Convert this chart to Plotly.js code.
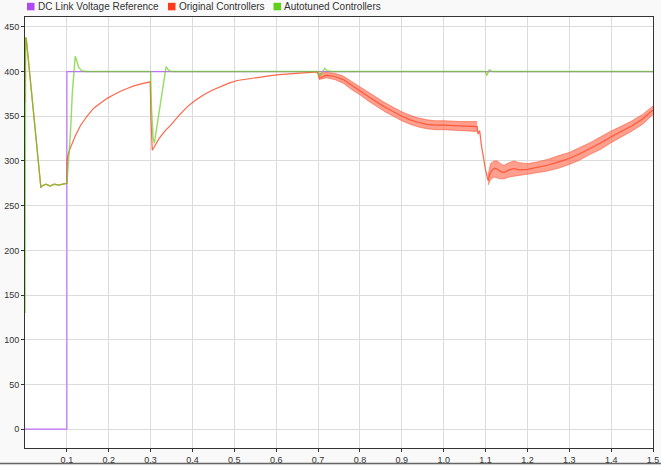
<!DOCTYPE html>
<html>
<head>
<meta charset="utf-8">
<script src="https://cdn.plot.ly/plotly-3.0.1.min.js"></script>
<style>html,body{margin:0;padding:0;background:#f9f9f9;}#chart{width:661px;height:466px;}</style>
</head>
<body>
<div id="chart"></div>
<script>
// ---- data ----
const seriesNames = ["DC Link Voltage Reference", "Original Controllers", "Autotuned Controllers"];

const refTime = [0, 0.1, 0.1, 1.5];
const refVolt = [0, 0, 400, 400];

const autoTime = [0, 0.0015, 0.003, 0.038, 0.040, 0.05, 0.06, 0.07, 0.08, 0.09, 0.1, 0.104, 0.109, 0.113, 0.117, 0.120, 0.123, 0.128, 0.135, 0.145, 0.30, 0.302, 0.306, 0.309, 0.337, 0.342, 0.35, 0.36, 0.70, 0.704, 0.710, 0.716, 0.722, 0.73, 1.10, 1.103, 1.106, 1.109, 1.114, 1.12, 1.5];
const autoVolt = [130, 438, 437, 270, 272, 274, 272, 274, 273, 274, 275, 300, 335, 376, 406, 417, 413, 405, 401, 400, 400, 360, 325, 320, 405.5, 402, 400, 400, 400, 395, 399, 403.5, 401, 400, 400, 395.5, 399, 402, 400.5, 400, 400];

const origTime = [0, 0.0015, 0.003, 0.038, 0.040, 0.05, 0.06, 0.07, 0.08, 0.09, 0.1, 0.1005, 0.102, 0.107, 0.113, 0.12, 0.133, 0.148, 0.164, 0.18, 0.196, 0.212, 0.228, 0.244, 0.26, 0.28, 0.299, 0.301, 0.304, 0.308, 0.32, 0.335, 0.348, 0.368, 0.388, 0.407, 0.427, 0.447, 0.467, 0.487, 0.507, 0.527, 0.547, 0.567, 0.587, 0.607, 0.626, 0.65, 0.674, 0.698, 0.703, 0.72, 0.74, 0.76, 0.78, 0.80, 0.82, 0.84, 0.86, 0.88, 0.90, 0.92, 0.94, 0.96, 0.98, 1.00, 1.04, 1.08, 1.082, 1.086, 1.090, 1.094, 1.100, 1.106, 1.110, 1.116, 1.122, 1.128, 1.136, 1.144, 1.156, 1.168, 1.18, 1.2, 1.225, 1.25, 1.275, 1.3, 1.325, 1.35, 1.375, 1.4, 1.425, 1.45, 1.475, 1.5];
const origVolt = [365, 438, 437, 270, 272, 274, 272, 274, 273, 274, 275, 300, 305, 313, 320, 328, 340, 350, 359, 365, 370, 374, 378, 381, 384, 386.5, 388.5, 345, 312, 315, 325, 334, 340, 351, 360.8, 368, 374, 379, 383, 387, 390, 391.5, 393, 394.5, 395.5, 396.5, 397.4, 398.2, 398.9, 399.7, 392.5, 396, 394.5, 391, 384.5, 379, 372, 366, 360, 355, 350, 346, 343, 341, 340, 340, 339, 338.5, 330, 334, 318, 306, 290, 278, 285, 290, 292, 291, 288, 287, 290, 291.5, 290, 290.7, 293, 295.5, 299, 302.7, 308, 314, 320, 327, 333, 339.3, 347, 357];

// ripple band of the original controllers (upper / lower envelope)
const ripple1Time = [0.702, 0.72, 0.74, 0.76, 0.78, 0.80, 0.82, 0.84, 0.86, 0.88, 0.90, 0.92, 0.94, 0.96, 0.98, 1.00, 1.04, 1.08];
const ripple1Upper = [398, 399, 398, 395, 389, 383, 377, 371, 365, 360, 355, 351, 348, 346, 345, 345, 344, 344];
const ripple1Lower = [391, 393, 391, 387, 380, 374, 367, 361, 355, 350, 345, 341, 338, 336, 335, 335, 334, 333];
const ripple2Time = [1.106, 1.112, 1.12, 1.128, 1.136, 1.144, 1.156, 1.168, 1.18, 1.20, 1.225, 1.25, 1.275, 1.30, 1.325, 1.35, 1.375, 1.40, 1.425, 1.45, 1.475, 1.5];
const ripple2Upper = [284, 297, 300, 300, 297, 295, 298, 300, 298, 297, 299, 302, 306, 309.5, 315, 320.5, 327, 333.5, 339, 345, 352, 361.5];
const ripple2Lower = [273, 279, 282, 281, 280, 280, 282, 283, 284, 285, 287, 289, 292, 296, 301, 307.5, 313, 320.5, 327, 333.6, 341, 352];

const xTickVals = [0.1, 0.2, 0.3, 0.4, 0.5, 0.6, 0.7, 0.8, 0.9, 1.0, 1.1, 1.2, 1.3, 1.4, 1.5];
const xTickText = ["0.1", "0.2", "0.3", "0.4", "0.5", "0.6", "0.7", "0.8", "0.9", "1.0", "1.1", "1.2", "1.3", "1.4", "1.5"];
const yTickVals = [0, 50, 100, 150, 200, 250, 300, 350, 400, 450];

// ---- styles ----
const lineColors = ["#c070ff", "#ff4a2a", "#6ccf22"];
const swatchColors = ["#b148f5", "#ff3a1a", "#5fcf1a"];
const bandFill = "rgba(255,100,72,0.62)";
const bandEdge = "rgba(255,75,45,0.7)";

const traces = [
  {x: refTime, y: refVolt, name: seriesNames[0], mode: "lines", line: {color: lineColors[0], width: 1.2}, showlegend: false, hoverinfo: "skip"},
  {x: ripple1Time, y: ripple1Lower, mode: "lines", line: {color: bandEdge, width: 0.8}, showlegend: false, hoverinfo: "skip"},
  {x: ripple1Time, y: ripple1Upper, mode: "lines", fill: "tonexty", fillcolor: bandFill, line: {color: bandEdge, width: 0.8}, showlegend: false, hoverinfo: "skip"},
  {x: ripple2Time, y: ripple2Lower, mode: "lines", line: {color: bandEdge, width: 0.8}, showlegend: false, hoverinfo: "skip"},
  {x: ripple2Time, y: ripple2Upper, mode: "lines", fill: "tonexty", fillcolor: bandFill, line: {color: bandEdge, width: 0.8}, showlegend: false, hoverinfo: "skip"},
  {x: origTime, y: origVolt, name: seriesNames[1], mode: "lines", opacity: 0.85, line: {color: lineColors[1], width: 1.2}, showlegend: false},
  {x: autoTime, y: autoVolt, name: seriesNames[2], mode: "lines", opacity: 0.72, line: {color: lineColors[2], width: 1.4}, showlegend: false}
];

// plot area in pixels
const L = 25, R = 653, T = 17, B = 448;
const px = v => (v - L) / (R - L);
const py = v => (B - v) / (B - T);

const legendItems = [
  {sq: 27, text: 35.5},
  {sq: 168, text: 176.5},
  {sq: 273.5, text: 282}
];
const shapes = legendItems.map((it, i) => ({
  type: "rect", xref: "paper", yref: "paper",
  x0: px(it.sq), x1: px(it.sq + 7.5), y0: py(10.3), y1: py(2.8),
  fillcolor: swatchColors[i], line: {width: 0}
}));
shapes.push({type: "line", xref: "paper", yref: "paper", x0: px(0), x1: px(661), y0: py(463.5), y1: py(463.5), line: {color: "#666", width: 1.5}});

const annotations = legendItems.map((it, i) => ({
  xref: "paper", yref: "paper", x: px(it.text), y: py(6.5), xanchor: "left", yanchor: "middle",
  text: seriesNames[i], showarrow: false, font: {size: 10, color: "#333"}
}));

const layout = {
  width: 661, height: 466,
  margin: {l: L, r: 661 - R, t: T, b: 466 - B, pad: 0},
  paper_bgcolor: "#f9f9f9",
  plot_bgcolor: "#ffffff",
  font: {family: "Liberation Sans, Arial, sans-serif", size: 9, color: "#333"},
  showlegend: false,
  xaxis: {
    range: [0, 1.5], tickvals: xTickVals, ticktext: xTickText,
    showgrid: true, gridcolor: "#dcdcdc", gridwidth: 1,
    zeroline: false, showline: true, linecolor: "#333", linewidth: 1, mirror: true,
    ticks: "outside", ticklen: 3, tickcolor: "#333", tickfont: {size: 9, color: "#333"}
  },
  yaxis: {
    range: [-21, 461], tickvals: yTickVals,
    showgrid: true, gridcolor: "#dcdcdc", gridwidth: 1,
    zeroline: false, showline: true, linecolor: "#333", linewidth: 1, mirror: true,
    ticks: "outside", ticklen: 3, tickcolor: "#333", tickfont: {size: 9, color: "#333"}
  },
  shapes: shapes,
  annotations: annotations
};

Plotly.newPlot("chart", traces, layout, {displayModeBar: false, staticPlot: true});
</script>
</body>
</html>
